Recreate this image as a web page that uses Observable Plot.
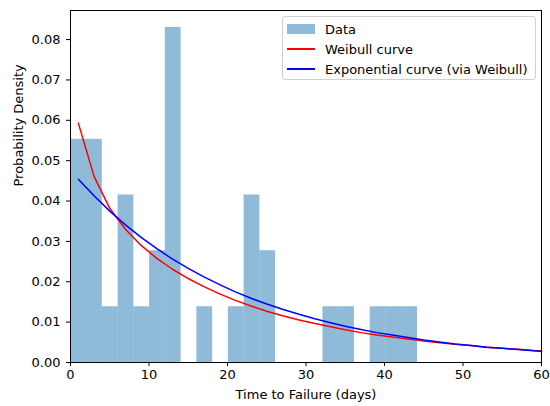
<!DOCTYPE html>
<html>
<head>
<meta charset="utf-8">
<script src="https://cdn.jsdelivr.net/npm/d3@7"></script>
<script src="https://cdn.jsdelivr.net/npm/@observablehq/plot@0.6"></script>
<style>
  body { margin: 0; background: #fff; font-family: "DejaVu Sans", sans-serif; }
  #wrap { position: relative; width: 550px; height: 406px; }
  #legend {
    position: absolute; left: 282px; top: 16px; width: 252px; height: 62px;
    border: 1px solid #d0d0d0; border-radius: 3px; background: rgba(255,255,255,0.8);
    font-size: 13px; color: #000;
  }
  .item { position: absolute; left: 4px; height: 20px; display: flex; align-items: center; white-space: nowrap; }
  .sw { width: 28px; margin-right: 10px; }
</style>
</head>
<body>
<div id="wrap"></div>
<script>
// Histogram bin edges (days) and densities
const binEdges = [0.04, 2.05, 4.05, 6.06, 8.07, 10.08, 12.08, 14.09, 16.10, 18.11, 20.11, 22.12,
                  24.13, 26.13, 28.14, 30.15, 32.16, 34.16, 36.17, 38.18, 40.19, 42.19, 44.20];
const binDensity = [0.0553, 0.0553, 0.0138, 0.0415, 0.0138, 0.0277, 0.0830, 0, 0.0138, 0, 0.0138, 0.0415,
                    0.0277, 0, 0, 0, 0.0138, 0.0138, 0, 0.0138, 0.0138, 0.0138];

// Curve sample points
const curveX = [1, 3, 5, 7, 9, 11, 13, 15, 17, 19, 21, 23, 25, 27, 29, 31, 33, 35, 37, 39,
                41, 43, 45, 47, 49, 51, 53, 55, 57, 59, 60];
const weibullY = [0.0593, 0.0461, 0.0382, 0.0330, 0.0290, 0.0258, 0.0231, 0.0208, 0.0188, 0.0170,
                  0.0154, 0.0140, 0.0127, 0.0116, 0.0106, 0.0097, 0.0089, 0.0081, 0.0074, 0.0068,
                  0.0063, 0.0058, 0.0053, 0.0049, 0.0045, 0.0042, 0.0038, 0.0035, 0.0033, 0.0030, 0.0029];
const exponentialY = [0.0454, 0.0413, 0.0375, 0.0341, 0.0310, 0.0282, 0.0256, 0.0233, 0.0212, 0.0193,
                      0.0175, 0.0159, 0.0145, 0.0132, 0.0120, 0.0109, 0.0099, 0.0090, 0.0082, 0.0074,
                      0.0068, 0.0062, 0.0056, 0.0051, 0.0046, 0.0042, 0.0038, 0.0035, 0.0032, 0.0029, 0.0027];

const xTicks = [0, 10, 20, 30, 40, 50, 60];
const yTicks = [0, 0.01, 0.02, 0.03, 0.04, 0.05, 0.06, 0.07, 0.08];

const bars = binDensity.map((d, i) => ({x1: binEdges[i], x2: binEdges[i + 1], y: d})).filter(b => b.y > 0);
const weibull = curveX.map((x, i) => ({x, y: weibullY[i]}));
const expo = curveX.map((x, i) => ({x, y: exponentialY[i]}));

const chart = Plot.plot({
  width: 550,
  height: 406,
  marginLeft: 70,
  marginRight: 9,
  marginTop: 10,
  marginBottom: 44,
  style: {fontFamily: "DejaVu Sans, sans-serif", fontSize: "13px", color: "#000", background: "#fff"},
  x: {domain: [0, 60]},
  y: {domain: [0, 0.0872]},
  marks: [
    Plot.rectY(bars, {x1: "x1", x2: "x2", y1: 0, y2: "y", fill: "#1f77b4", fillOpacity: 0.5, inset: 0}),
    Plot.line(weibull, {x: "x", y: "y", stroke: "red", strokeWidth: 1.5}),
    Plot.line(expo, {x: "x", y: "y", stroke: "blue", strokeWidth: 1.5}),
    Plot.axisX({ticks: xTicks, tickSize: 4, tickPadding: 3, label: null, tickFormat: d3.format("d"), fontSize: 13}),
    Plot.axisY({ticks: yTicks, tickSize: 4, tickPadding: 6, label: null, tickFormat: d3.format(".2f"), fontSize: 13}),
    Plot.frame({stroke: "#000", strokeWidth: 1}),
    Plot.text(["Time to Failure (days)"], {frameAnchor: "bottom", dy: 36, fontSize: 13}),
    Plot.text(["Probability Density"], {frameAnchor: "left", rotate: -90, dx: -52, fontSize: 13})
  ]
});

const wrap = document.getElementById("wrap");
wrap.appendChild(chart);

const legendItems = [
  {label: "Data", type: "patch", color: "#1f77b4"},
  {label: "Weibull curve", type: "line", color: "red"},
  {label: "Exponential curve (via Weibull)", type: "line", color: "blue"}
];
const legend = document.createElement("div");
legend.id = "legend";
legendItems.forEach((it, i) => {
  const row = document.createElement("div");
  row.className = "item";
  row.style.top = (2 + i * 20) + "px";
  const sw = document.createElement("div");
  sw.className = "sw";
  if (it.type === "patch") {
    sw.style.height = "10px";
    sw.style.background = it.color;
    sw.style.opacity = "0.5";
  } else {
    sw.style.height = "2px";
    sw.style.background = it.color;
  }
  const tx = document.createElement("span");
  tx.textContent = it.label;
  row.appendChild(sw);
  row.appendChild(tx);
  legend.appendChild(row);
});
wrap.appendChild(legend);
</script>
</body>
</html>
